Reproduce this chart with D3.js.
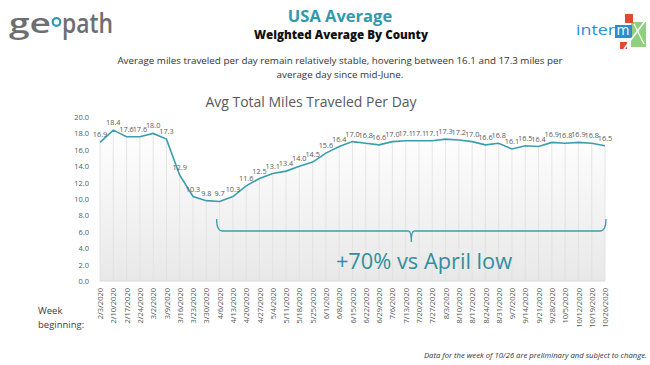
<!DOCTYPE html>
<html>
<head>
<meta charset="utf-8">
<script src="https://cdn.jsdelivr.net/npm/d3@7"></script>
<style>
  body { margin: 0; background: #fff; }
  text { font-family: "Open Sans", sans-serif; }
</style>
</head>
<body>
<div id="chart"></div>
<script>
// weekly data
var weeks = ["2/3/2020","2/10/2020","2/17/2020","2/24/2020","3/2/2020","3/9/2020","3/16/2020","3/23/2020","3/30/2020",
             "4/6/2020","4/13/2020","4/20/2020","4/27/2020","5/4/2020","5/11/2020","5/18/2020","5/25/2020",
             "6/1/2020","6/8/2020","6/15/2020","6/22/2020","6/29/2020","7/6/2020","7/13/2020","7/20/2020","7/27/2020",
             "8/3/2020","8/10/2020","8/17/2020","8/24/2020","8/31/2020","9/7/2020","9/14/2020","9/21/2020","9/28/2020",
             "10/5/2020","10/12/2020","10/19/2020","10/26/2020"];
var miles = [16.9,18.4,17.6,17.6,18.0,17.3,12.9,10.3,9.8,
             9.7,10.3,11.6,12.5,13.1,13.4,14.0,14.5,
             15.6,16.4,17.0,16.8,16.6,17.0,17.1,17.1,17.1,
             17.3,17.2,17.0,16.6,16.8,16.1,16.5,16.4,16.9,
             16.8,16.9,16.8,16.5];
var yTicks = [0,2,4,6,8,10,12,14,16,18,20];

var width = 650, height = 365;
var teal = "#3a9dae";
var grey = "#595959";

var svg = d3.select("#chart").append("svg")
    .attr("width", width)
    .attr("height", height);

var data = weeks.map(function (w, i) { return {week: w, v: miles[i]}; });

var x_scale = d3.scalePoint().domain(weeks).range([100, 605]);
var y_scale = d3.scaleLinear().domain([0, 20]).range([281, 117]);

// gradient for the area under the line
var defs = svg.append("defs");
var grad = defs.append("linearGradient")
    .attr("id", "areaGrad")
    .attr("x1", 0).attr("y1", 0).attr("x2", 0).attr("y2", 1);
grad.append("stop").attr("offset", "0%").attr("stop-color", "#ffffff");
grad.append("stop").attr("offset", "100%").attr("stop-color", "#e8e8e8");

var area = d3.area()
    .x(function (d) { return x_scale(d.week); })
    .y0(y_scale(0))
    .y1(function (d) { return y_scale(d.v); });

svg.append("path")
    .attr("d", area(data))
    .attr("fill", "url(#areaGrad)");

// vertical lines under the curve
svg.selectAll(".vgrid")
    .data(data)
  .enter().append("line")
    .attr("class", "vgrid")
    .attr("x1", function (d) { return x_scale(d.week); })
    .attr("x2", function (d) { return x_scale(d.week); })
    .attr("y1", function (d) { return y_scale(d.v); })
    .attr("y2", y_scale(0))
    .attr("stroke", "#e0e0e0")
    .attr("stroke-width", 0.8);

svg.append("line")
    .attr("x1", x_scale(weeks[0])).attr("x2", x_scale(weeks[weeks.length - 1]))
    .attr("y1", y_scale(0)).attr("y2", y_scale(0))
    .attr("stroke", "#d9d9d9");

var v_line = d3.line()
    .x(function (d) { return x_scale(d.week); })
    .y(function (d) { return y_scale(d.v); });

svg.append("path")
    .attr("d", v_line(data))
    .attr("fill", "none")
    .attr("stroke", teal)
    .attr("stroke-width", 1.6);

// data labels
svg.selectAll(".lbl")
    .data(data)
  .enter().append("text")
    .attr("class", "lbl")
    .attr("x", function (d) { return x_scale(d.week); })
    .attr("y", function (d) { return y_scale(d.v) - 5; })
    .attr("text-anchor", "middle")
    .attr("font-size", "7.3px")
    .attr("fill", grey)
    .text(function (d) { return d.v.toFixed(1); });

// y axis
var yAxis = d3.axisLeft(y_scale).tickValues(yTicks).tickSize(0).tickPadding(3)
    .tickFormat(d3.format(".1f"));
var gy = svg.append("g").attr("transform", "translate(92,0)").call(yAxis);
gy.select(".domain").remove();
gy.selectAll("text").attr("font-family", "'Open Sans', sans-serif")
    .attr("font-size", "7.5px").attr("fill", grey);

// x axis
var xAxis = d3.axisBottom(x_scale).tickSize(0);
var gx = svg.append("g").attr("transform", "translate(0," + y_scale(0) + ")").call(xAxis);
gx.select(".domain").remove();
gx.selectAll("text")
    .attr("font-family", "'Open Sans', sans-serif")
    .attr("font-size", "7.5px")
    .attr("fill", grey)
    .attr("transform", "rotate(-90)")
    .attr("text-anchor", "end")
    .attr("x", -7)
    .attr("y", 0)
    .attr("dy", "0.35em");

// bracket + annotation
var bx0 = x_scale("4/6/2020") - 3, bx1 = x_scale("10/26/2020") + 1;
var bmid = (bx0 + bx1) / 2;
svg.append("path")
    .attr("d", "M" + bx0 + ",219 Q" + bx0 + ",231 " + (bx0 + 6) + ",231 L" + (bmid - 3) + ",231 Q" + bmid + ",231 " + bmid + ",242" +
               " Q" + bmid + ",231 " + (bmid + 3) + ",231 L" + (bx1 - 6) + ",231 Q" + bx1 + ",231 " + bx1 + ",219")
    .attr("fill", "none")
    .attr("stroke", teal)
    .attr("stroke-width", 1.3);

svg.append("text")
    .attr("x", 424).attr("y", 269)
    .attr("text-anchor", "middle")
    .attr("font-size", "21.8px")
    .attr("fill", "#2f8f9f")
    .text("+70% vs April low");

// headings
svg.append("text").attr("x", 340).attr("y", 22).attr("text-anchor", "middle")
    .attr("font-size", "16.5px").attr("font-weight", "bold").attr("fill", "#2f9aab")
    .text("USA Average");
svg.append("text").attr("x", 341).attr("y", 38.5).attr("text-anchor", "middle")
    .attr("font-size", "11.6px").attr("font-weight", "800").attr("fill", "#111")
    .text("Weighted Average By County");

svg.append("text").attr("x", 340).attr("y", 64).attr("text-anchor", "middle")
    .attr("font-size", "9.8px").attr("fill", "#333")
    .text("Average miles traveled per day remain relatively stable, hovering between 16.1 and 17.3 miles per");
svg.append("text").attr("x", 340).attr("y", 78).attr("text-anchor", "middle")
    .attr("font-size", "9.8px").attr("fill", "#333")
    .text("average day since mid-June.");

svg.append("text").attr("x", 311).attr("y", 107).attr("text-anchor", "middle")
    .attr("font-size", "14px").attr("fill", grey)
    .text("Avg Total Miles Traveled Per Day");

svg.append("text").attr("x", 38).attr("y", 314)
    .attr("font-size", "9.5px").attr("fill", "#404040").text("Week");
svg.append("text").attr("x", 38).attr("y", 328)
    .attr("font-size", "9.5px").attr("fill", "#404040").text("beginning:");

svg.append("text").attr("x", 647).attr("y", 358).attr("text-anchor", "end")
    .attr("font-size", "7.7px").attr("font-style", "italic").attr("fill", "#333")
    .text("Data for the week of 10/26 are preliminary  and subject to change.");

// geopath logo
var logo = svg.append("g");
logo.append("text").attr("x", 9).attr("y", 33)
    .attr("font-size", "27px").attr("font-weight", "600").attr("fill", "#6d6e71")
    .attr("textLength", 42).attr("lengthAdjust", "spacingAndGlyphs")
    .text("ge");
logo.append("circle").attr("cx", 56.5).attr("cy", 22).attr("r", 3.8)
    .attr("fill", "none").attr("stroke", "#2f9aab").attr("stroke-width", 2.2);
logo.append("text").attr("x", 62).attr("y", 33)
    .attr("font-size", "27px").attr("font-weight", "600").attr("fill", "#6d6e71")
    .attr("textLength", 51).attr("lengthAdjust", "spacingAndGlyphs")
    .text("path");

// intermx logo
var im = svg.append("g");
im.append("polygon").attr("points", "631,22 646,22 646,47 631,47").attr("fill", "#8fcf7e");
im.append("rect").attr("x", 625).attr("y", 14).attr("width", 8).attr("height", 9).attr("fill", "#e04a33");
im.append("rect").attr("x", 620).attr("y", 42).attr("width", 7).attr("height", 7).attr("fill", "#e04a33");
im.append("text").attr("x", 576).attr("y", 35)
    .attr("font-size", "15px").attr("fill", "#2a8fd0")
    .attr("textLength", 39).attr("lengthAdjust", "spacingAndGlyphs")
    .text("inter");
im.append("rect").attr("x", 615).attr("y", 25).attr("width", 17).attr("height", 13).attr("fill", "#2a8fd0");
im.append("text").attr("x", 616.5).attr("y", 35)
    .attr("font-size", "14px").attr("fill", "#fff").text("m");
im.append("line").attr("x1", 624).attr("y1", 49).attr("x2", 645).attr("y2", 21)
    .attr("stroke", "#fff").attr("stroke-width", 1.5);
im.append("line").attr("x1", 634).attr("y1", 24).attr("x2", 644).attr("y2", 44)
    .attr("stroke", "#fff").attr("stroke-width", 1.2);
</script>
</body>
</html>
